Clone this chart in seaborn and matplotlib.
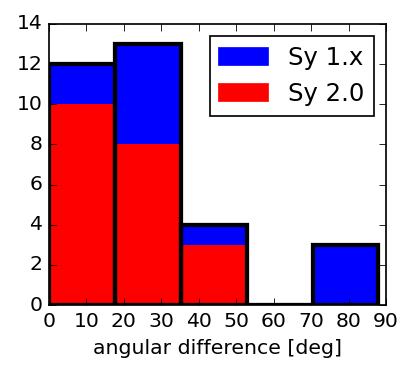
import numpy as np
import pandas as pd
import matplotlib
matplotlib.use("Agg")
import matplotlib.pyplot as plt
import seaborn as sns
from matplotlib.patches import Patch

# bin edges of the angular difference histogram [deg]
bin_edges = [0.0, 17.6, 35.2, 52.8, 70.4, 88.0]
# counts per bin for each sample
sy1_counts = [2, 5, 1, 0, 3]
sy2_counts = [10, 8, 3, 0, 0]
labels = ["Sy 1.x", "Sy 2.0"]
colors = {"Sy 1.x": "blue", "Sy 2.0": "red"}

plt.style.use("classic")

edges = np.array(bin_edges)
centers = (edges[:-1] + edges[1:]) / 2
df = pd.DataFrame({
    "angle": np.concatenate([centers, centers]),
    "count": np.concatenate([sy1_counts, sy2_counts]),
    "sample": [labels[0]] * len(centers) + [labels[1]] * len(centers),
})
total = np.array(sy1_counts) + np.array(sy2_counts)

dpi = 122
fig = plt.figure(figsize=(415 / dpi, 379 / dpi), dpi=dpi)
ax = fig.add_axes([0.118, 0.195, 0.812, 0.742])

sns.histplot(data=df, x="angle", weights="count", hue="sample",
             hue_order=labels, palette=colors, bins=bin_edges,
             multiple="stack", linewidth=0, alpha=1, legend=False, ax=ax)
sns.histplot(x=centers, weights=total, bins=bin_edges, fill=False,
             color="black", linewidth=2.5, ax=ax)

ax.set_xlim(0, 90)
ax.set_ylim(0, 14)
ax.set_xlabel("angular difference [deg]")
ax.set_ylabel("")

handles = [Patch(facecolor=colors[l], edgecolor=colors[l], label=l) for l in labels]
ax.legend(handles=handles, loc="upper right")

fig.savefig("out.png", dpi=dpi)
